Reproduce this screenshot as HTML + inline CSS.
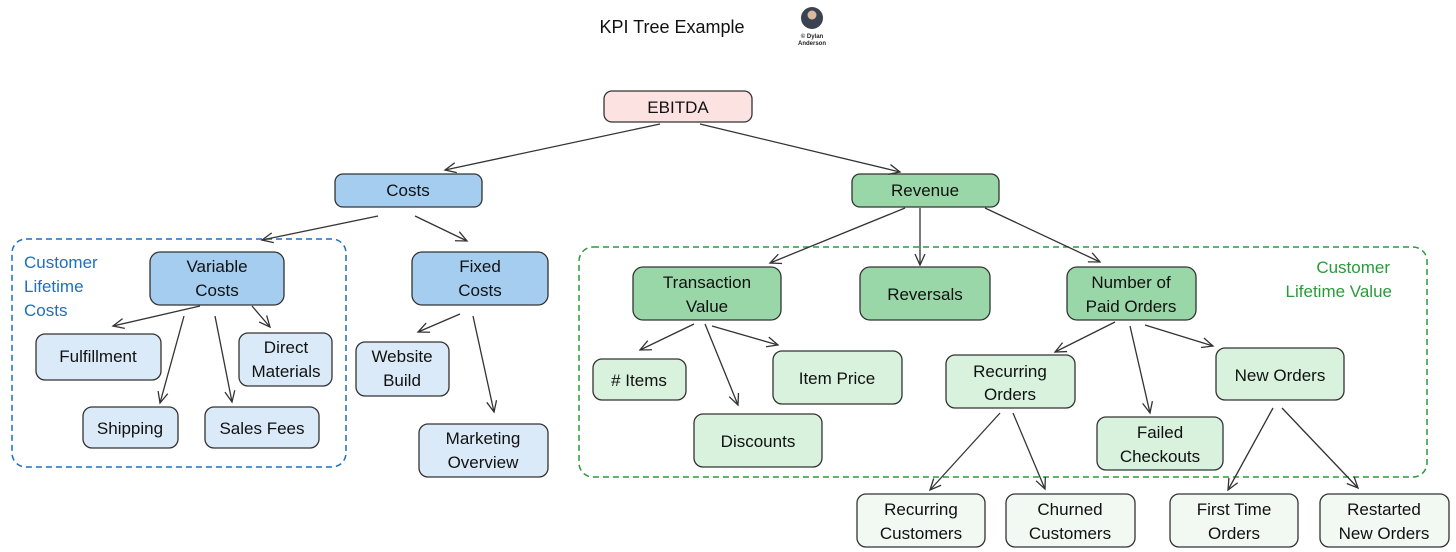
<!DOCTYPE html>
<html><head><meta charset="utf-8"><style>
html,body{margin:0;padding:0;background:#fff;}
svg{display:block;}
text{font-family:"Liberation Sans",sans-serif;}
</style></head><body>
<svg width="1456" height="552" viewBox="0 0 1456 552" xmlns="http://www.w3.org/2000/svg">
<defs>
<marker id="a" markerWidth="14" markerHeight="12" refX="12" refY="6" orient="auto" markerUnits="userSpaceOnUse">
<path d="M1,1 L12,6 L1,11" fill="none" stroke="#333" stroke-width="1.3"/>
</marker>
</defs>
<text x="672" y="33" font-size="18" text-anchor="middle" fill="#111">KPI Tree Example</text>
<circle cx="812" cy="18" r="11" fill="#3b4250"/>
<circle cx="812" cy="15" r="4.5" fill="#d9b9a0"/>
<text x="812" y="38" font-size="6" text-anchor="middle" font-weight="bold" fill="#222">© Dylan</text>
<text x="812" y="45" font-size="6" text-anchor="middle" font-weight="bold" fill="#222">Anderson</text>

<rect x="12" y="239" width="334" height="228" rx="14" fill="none" stroke="#1e6fc0" stroke-width="1.5" stroke-dasharray="6,4"/>
<text font-size="17" fill="#1e6fc0"><tspan x="24" y="268">Customer</tspan><tspan x="24" y="292">Lifetime</tspan><tspan x="24" y="316">Costs</tspan></text>
<rect x="579" y="247" width="848" height="230" rx="14" fill="none" stroke="#2a9a3a" stroke-width="1.5" stroke-dasharray="6,4"/>
<text font-size="17" fill="#2a9a3a" text-anchor="end"><tspan x="1390" y="273">Customer</tspan><tspan x="1392" y="297">Lifetime Value</tspan></text>

<g stroke="#333" stroke-width="1.3" rx="8">
<rect x="604" y="91" width="148" height="31" rx="8" fill="#fde2e2"/>
<rect x="335" y="174" width="147" height="33" rx="8" fill="#a5cdf0"/>
<rect x="852" y="174" width="147" height="33" rx="8" fill="#9ad7a8"/>
<rect x="150" y="252" width="134" height="53" rx="10" fill="#a5cdf0"/>
<rect x="412" y="252" width="136" height="53" rx="10" fill="#a5cdf0"/>
<rect x="36" y="334" width="125" height="46" rx="9" fill="#dbeaf8"/>
<rect x="239" y="333" width="93" height="53" rx="9" fill="#dbeaf8"/>
<rect x="83" y="407" width="95" height="41" rx="9" fill="#dbeaf8"/>
<rect x="205" y="407" width="114" height="41" rx="9" fill="#dbeaf8"/>
<rect x="356" y="342" width="93" height="54" rx="9" fill="#dbeaf8"/>
<rect x="419" y="424" width="129" height="53" rx="9" fill="#dbeaf8"/>
<rect x="633" y="267" width="148" height="53" rx="10" fill="#9ad7a8"/>
<rect x="860" y="267" width="130" height="53" rx="10" fill="#9ad7a8"/>
<rect x="1067" y="267" width="129" height="53" rx="10" fill="#9ad7a8"/>
<rect x="593" y="359" width="93" height="41" rx="9" fill="#d9f2de"/>
<rect x="773" y="351" width="129" height="53" rx="9" fill="#d9f2de"/>
<rect x="694" y="414" width="128" height="53" rx="9" fill="#d9f2de"/>
<rect x="946" y="355" width="129" height="53" rx="9" fill="#d9f2de"/>
<rect x="1097" y="417" width="126" height="53" rx="9" fill="#d9f2de"/>
<rect x="1216" y="348" width="128" height="52" rx="9" fill="#d9f2de"/>
<rect x="857" y="494" width="128" height="53" rx="9" fill="#f1f9f2"/>
<rect x="1006" y="494" width="129" height="53" rx="9" fill="#f1f9f2"/>
<rect x="1170" y="494" width="128" height="53" rx="9" fill="#f1f9f2"/>
<rect x="1320" y="494" width="129" height="53" rx="9" fill="#f1f9f2"/>
</g>

<g font-size="17" fill="#111" text-anchor="middle">
<text x="678" y="113">EBITDA</text>
<text x="408" y="196">Costs</text>
<text x="925" y="196">Revenue</text>
<text x="217" y="272">Variable</text><text x="217" y="296">Costs</text>
<text x="480" y="272">Fixed</text><text x="480" y="296">Costs</text>
<text x="98" y="362">Fulfillment</text>
<text x="286" y="353">Direct</text><text x="286" y="377">Materials</text>
<text x="130" y="434">Shipping</text>
<text x="262" y="434">Sales Fees</text>
<text x="402" y="362">Website</text><text x="402" y="386">Build</text>
<text x="483" y="444">Marketing</text><text x="483" y="468">Overview</text>
<text x="707" y="288">Transaction</text><text x="707" y="312">Value</text>
<text x="925" y="300">Reversals</text>
<text x="1131" y="288">Number of</text><text x="1131" y="312">Paid Orders</text>
<text x="639" y="386">#&#160;Items</text>
<text x="837" y="384">Item Price</text>
<text x="758" y="447">Discounts</text>
<text x="1010" y="377">Recurring</text><text x="1010" y="400">Orders</text>
<text x="1160" y="438">Failed</text><text x="1160" y="462">Checkouts</text>
<text x="1280" y="381">New Orders</text>
<text x="921" y="515">Recurring</text><text x="921" y="539">Customers</text>
<text x="1070" y="515">Churned</text><text x="1070" y="539">Customers</text>
<text x="1234" y="515">First Time</text><text x="1234" y="539">Orders</text>
<text x="1384" y="515">Restarted</text><text x="1384" y="539">New Orders</text>
</g>

<g stroke="#333" stroke-width="1.3" fill="none" marker-end="url(#a)">
<path d="M660,124 L445,170"/>
<path d="M700,124 L900,172"/>
<path d="M378,216 L262,240"/>
<path d="M415,216 L467,241"/>
<path d="M905,208 L770,263"/>
<path d="M920,208 L920,265"/>
<path d="M985,208 L1100,262"/>
<path d="M200,306 L113,326"/>
<path d="M184,316 L160,403"/>
<path d="M215,316 L232,402"/>
<path d="M252,306 L270,327"/>
<path d="M460,314 L418,332"/>
<path d="M473,316 L494,412"/>
<path d="M694,324 L640,350"/>
<path d="M705,324 L738,405"/>
<path d="M712,326 L778,345"/>
<path d="M1115,322 L1055,352"/>
<path d="M1130,326 L1150,413"/>
<path d="M1145,325 L1213,346"/>
<path d="M1000,413 L930,490"/>
<path d="M1013,413 L1045,489"/>
<path d="M1273,408 L1228,490"/>
<path d="M1282,408 L1358,488"/>
</g>
</svg>
</body></html>
